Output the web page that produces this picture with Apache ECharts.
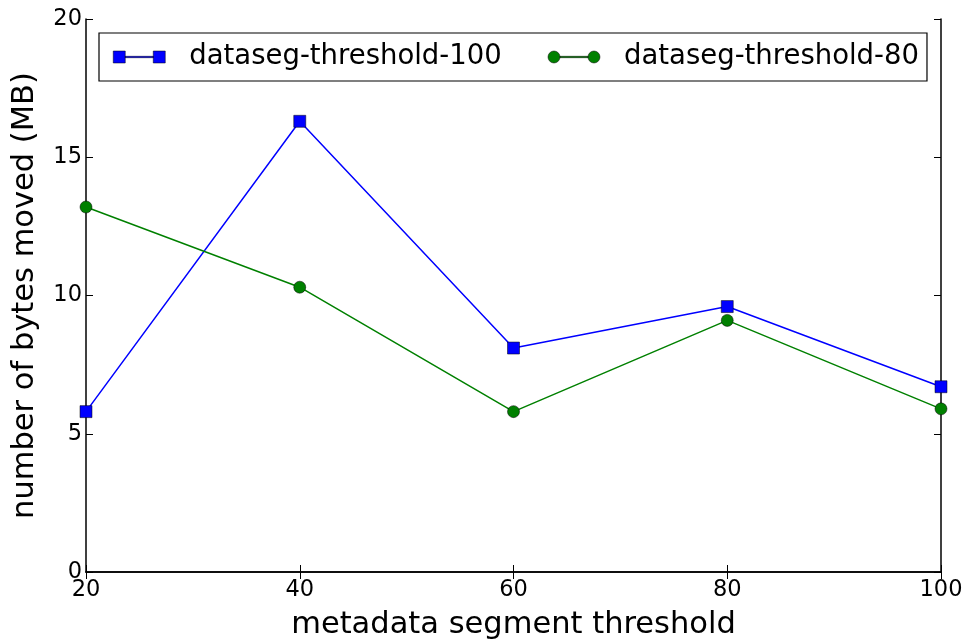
<!DOCTYPE html>
<html><head><meta charset="utf-8">
<script src="https://cdn.jsdelivr.net/npm/echarts@6/dist/echarts.min.js"></script>
<style>html,body{margin:0;padding:0;background:#fff}#c{width:971px;height:641px}</style>
</head><body><div id="c"></div>
<script>
const xValues = [20, 40, 60, 80, 100];
const seriesNames = ['dataseg-threshold-100', 'dataseg-threshold-80'];
const blueValues = [5.8, 16.3, 8.1, 9.6, 6.7];
const greenValues = [13.2, 10.3, 5.8, 9.1, 5.9];
const xTitle = 'metadata segment threshold';
const yTitle = 'number of bytes moved (MB)';

const font = 'DejaVu Sans';
const chart = echarts.init(document.getElementById('c'), null, {renderer: 'canvas'});
const sqIcon = 'path://M0,0h12v12h-12z M12,5.3h28v1.4h-28z M40,0h12v12h-12z';
const ciIcon = 'path://M0,6a6,6 0 1,0 12,0a6,6 0 1,0 -12,0z M12,5.3h28v1.4h-28z M40,6a6,6 0 1,0 12,0a6,6 0 1,0 -12,0z';
const axisCommon = {
  axisLine: {show: true, lineStyle: {color: '#000', width: 1.5}},
  axisTick: {show: true, inside: true, length: 7, lineStyle: {color: '#000', width: 1}},
  splitLine: {show: false}
};
chart.setOption({
  animation: false,
  grid: {left: 86, right: 30, top: 19, bottom: 69, containLabel: false, outerBoundsMode: 'none'},
  legend: {
    left: 99, top: 33,
    padding: [10, 8, 10, 14],
    borderColor: '#000', borderWidth: 1.2,
    itemWidth: 52, itemHeight: 12, itemGap: 46,
    textStyle: {fontFamily: font, fontSize: 27.5, color: '#000', padding: [0, 0, 0, 19]},
    data: [
      {name: seriesNames[0], icon: sqIcon, itemStyle: {color: '#0000ff', borderColor: '#000', borderWidth: 0.5}},
      {name: seriesNames[1], icon: ciIcon, itemStyle: {color: '#008000', borderColor: '#000', borderWidth: 0.5}}
    ]
  },
  xAxis: [
    Object.assign({type: 'value', min: 20, max: 100, interval: 20, position: 'bottom',
      name: xTitle, nameLocation: 'middle', nameGap: 38,
      nameTextStyle: {fontFamily: font, fontSize: 30.5, color: '#000'},
      axisLabel: {fontFamily: font, fontSize: 22.5, color: '#000', margin: 7}}, axisCommon),
    Object.assign({type: 'value', min: 20, max: 100, interval: 20, position: 'top',
      axisLabel: {show: false}}, axisCommon)
  ],
  yAxis: [
    Object.assign({type: 'value', min: 0, max: 20, interval: 5, position: 'left',
      name: yTitle, nameLocation: 'middle', nameGap: 45,
      nameTextStyle: {fontFamily: font, fontSize: 30.5, color: '#000'},
      axisLabel: {fontFamily: font, fontSize: 22.5, color: '#000', margin: 4}}, axisCommon),
    Object.assign({type: 'value', min: 0, max: 20, interval: 5, position: 'right',
      axisLabel: {show: false}}, axisCommon)
  ],
  series: [
    {name: seriesNames[0], type: 'line', clip: true,
     data: xValues.map((x, i) => [x, blueValues[i]]),
     symbol: 'rect', symbolSize: 12,
     lineStyle: {color: '#0000ff', width: 1.5},
     itemStyle: {color: '#0000ff', borderColor: '#000', borderWidth: 0.5}},
    {name: seriesNames[1], type: 'line', clip: true,
     data: xValues.map((x, i) => [x, greenValues[i]]),
     symbol: 'circle', symbolSize: 12,
     lineStyle: {color: '#008000', width: 1.5},
     itemStyle: {color: '#008000', borderColor: '#000', borderWidth: 0.5}}
  ]
});
</script></body></html>
